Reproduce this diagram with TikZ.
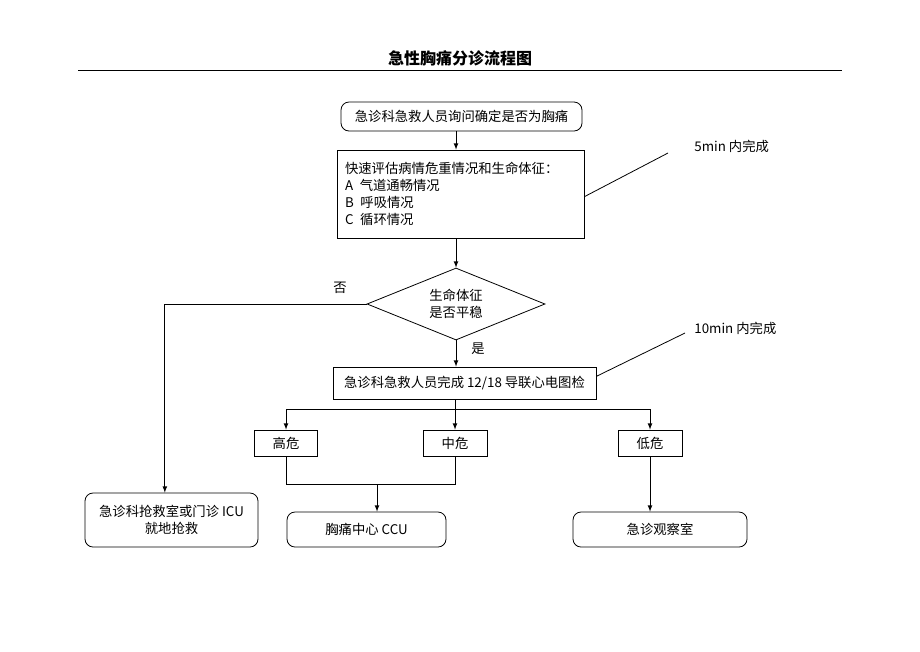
\documentclass[tikz,border=0pt]{standalone}
\usepackage{fontspec}
\setmainfont{Noto Sans CJK SC}
\usetikzlibrary{arrows,shapes.geometric,positioning}

\begin{document}
\begin{tikzpicture}[x=0.75pt,y=-0.75pt,>=latex,line width=0.6pt,
	every node/.style={font=\fontsize{10}{12.75}\selectfont},
	box/.style 2 args={draw,inner sep=0pt,minimum width=#1*0.75pt,minimum height=#2*0.75pt},
	roundbox/.style 2 args={box={#1}{#2},rounded corners=6pt},
	note/.style={anchor=west,inner sep=0pt}]
	\useasboundingbox (0,0) rectangle (920,651);
	\path (460,58) node (title) [font=\fontsize{12}{14}\selectfont\bfseries] {急性胸痛分诊流程图}
		  (78,70) coordinate (rulel)
		  (842,70) coordinate (ruler);
	\draw (rulel) -- (ruler);

	\path (461.5,116.5) node (ask) [roundbox={241}{29}] {急诊科急救人员询问确定是否为胸痛}
		  (460.5,194) node (assess) [box={247}{88},text width=231*0.75pt,align=left] {快速评估病情危重情况和生命体征：\\A\enspace 气道通畅情况\\B\enspace 呼吸情况\\C\enspace 循环情况}
		  (456,304) node (vitals) [box={178}{72},shape=diamond,aspect=2.47,align=center] {生命体征\\是否平稳}
		  (464.5,383) node (ecg) [box={263}{32}] {急诊科急救人员完成 12/18 导联心电图检}
		  (286,443) node (high) [box={63}{26}] {高危}
		  (455,443) node (mid) [box={64}{26}] {中危}
		  (650,443) node (low) [box={64}{26}] {低危}
		  (171.5,520) node (rescue) [roundbox={173}{54},align=center] {急诊科抢救室或门诊 ICU\\就地抢救}
		  (366.5,529.5) node (ccu) [roundbox={159}{35}] {胸痛中心 CCU}
		  (660,529.5) node (obs) [roundbox={174}{35}] {急诊观察室}
		  (340,288) node (no) {否}
		  (478,349) node (yes) {是};

	% notes
	\path (694,146) node (t5) [note] {5min 内完成}
		  (694,328) node (t10) [note] {10min 内完成}
		  (668,153) coordinate (end5)
		  (685,333) coordinate (end10);
	\draw ([yshift=-2pt]assess.east) -- (end5);
	\draw ([yshift=5pt]ecg.east) -- (end10);

	% main line
	\draw[->] (vitals.north |- ask.south) -- (vitals.north |- assess.north);
	\draw[->] (vitals.north |- assess.south) -- (vitals.north);
	\draw[->] (vitals.south) -- (vitals.south |- ecg.north);
	\draw[->] (vitals.west) -| ([xshift=-5pt]rescue.north);

	% grading
	\path (456,409) coordinate (split)
		  (377,484) coordinate (merge);
	\draw[->] (mid.north |- ecg.south) -- (mid.north);
	\draw[->] (split) -| (high.north);
	\draw[->] (split) -| (low.north);
	\draw (high.south) |- (merge) -| (mid.south);
	\draw[->] (merge) -- (merge |- ccu.north);
	\draw[->] (low.south) -- (low.south |- obs.north);
\end{tikzpicture}
\end{document}
